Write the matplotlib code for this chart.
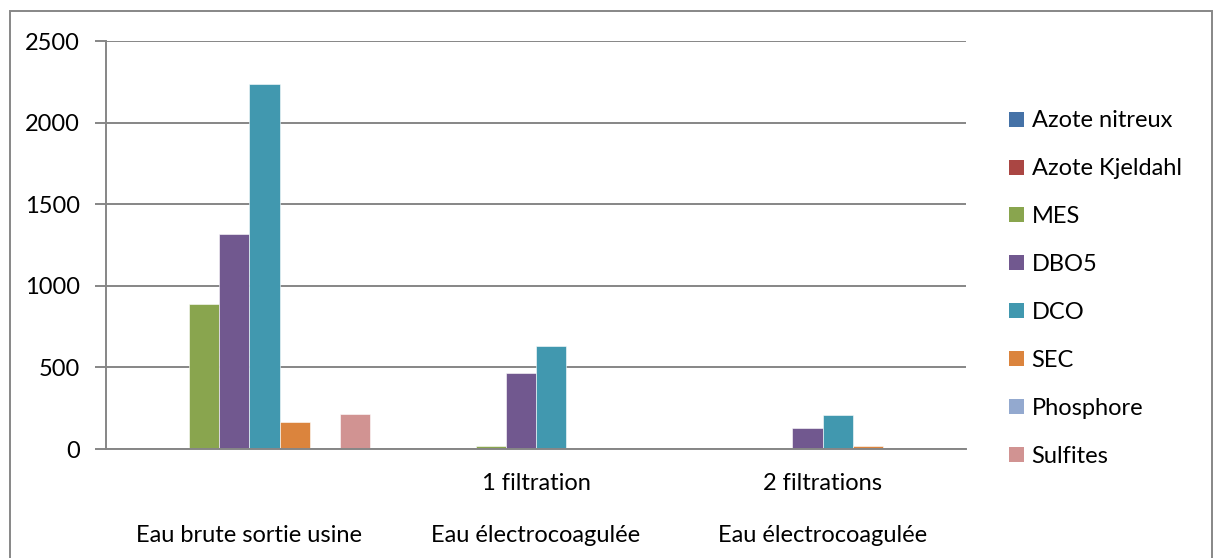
import matplotlib
matplotlib.use("Agg")
import matplotlib.pyplot as plt
import matplotlib.transforms as mtransforms
from matplotlib.patches import Rectangle, Patch
import numpy as np

plt.rcParams['font.family'] = ['Lato', 'DejaVu Sans']

categories_line1 = ["", "1 filtration", "2 filtrations"]
categories_line2 = ["Eau brute sortie usine", "Eau électrocoagulée", "Eau électrocoagulée"]
series_names = ["Azote nitreux", "Azote Kjeldahl", "MES", "DBO5", "DCO", "SEC", "Phosphore", "Sulfites"]
azote_nitreux = [0, 0, 0]
azote_kjeldahl = [0, 0, 0]
mes = [888, 20, 5]
dbo5 = [1319, 466, 126]
dco = [2236, 634, 208]
sec = [163, 8, 18]
phosphore = [0, 0, 0]
sulfites = [212, 0, 0]
series_values = [azote_nitreux, azote_kjeldahl, mes, dbo5, dco, sec, phosphore, sulfites]
colors = ["#4572A7", "#AA4643", "#89A54E", "#71588F", "#4198AF", "#DB843D", "#93A9CF", "#D19392"]
yticks = [0, 500, 1000, 1500, 2000, 2500]

FS = 17
W, H = 1217, 558
fig = plt.figure(figsize=(W / 100, H / 100), dpi=100)
ax = fig.add_axes([106 / W, (H - 449) / H, (966 - 106) / W, (449 - 41) / H])

n_cat = len(categories_line2)
n_ser = len(series_names)
gap = 1.5
bw = 1.0 / (n_ser + gap)
x = np.arange(n_cat)
for i, (vals, c) in enumerate(zip(series_values, colors)):
    offs = -0.5 + gap * bw / 2 + bw * i + bw / 2
    ax.bar(x + offs, vals, width=bw, color=c, edgecolor="#ffffff", linewidth=0.4, zorder=3)

ax.set_xlim(-0.5, n_cat - 0.5)
ax.set_ylim(0, 2500)
ax.set_yticks(yticks)
ax.set_yticklabels([str(v) for v in yticks], fontsize=FS)
ax.yaxis.grid(True, color="#868686", linewidth=1.4, zorder=0)
ax.set_axisbelow(True)
for s in ["top", "right"]:
    ax.spines[s].set_visible(False)
ax.spines["left"].set_color("#868686")
ax.spines["left"].set_linewidth(1.4)
ax.spines["bottom"].set_color("#868686")
ax.spines["bottom"].set_linewidth(1.4)
ax.spines["bottom"].set_zorder(4)
ax.tick_params(axis="y", length=8, width=1.4, color="#868686", pad=11)
ax.set_xticks([])

trans = mtransforms.blended_transform_factory(ax.transData, fig.transFigure)
for i in range(n_cat):
    ax.text(x[i], (H - 483) / H, categories_line1[i], transform=trans, ha="center", va="center", fontsize=FS)
    ax.text(x[i], (H - 535) / H, categories_line2[i], transform=trans, ha="center", va="center", fontsize=FS)

handles = [Patch(facecolor=c, edgecolor="none") for c in colors]
leg = fig.legend(handles, series_names, loc="upper left", bbox_to_anchor=(1000 / W, (H - 101) / H),
                 frameon=False, fontsize=FS, handlelength=0.6, handleheight=0.6,
                 handletextpad=0.34, labelspacing=1.14, borderaxespad=0)

fig.patches.append(Rectangle((10 / W, -0.05), (1212 - 10) / W, (H - 11) / H + 0.05, transform=fig.transFigure,
                             fill=False, edgecolor="#878787", linewidth=1.4))

fig.savefig("out.png", dpi=100)
